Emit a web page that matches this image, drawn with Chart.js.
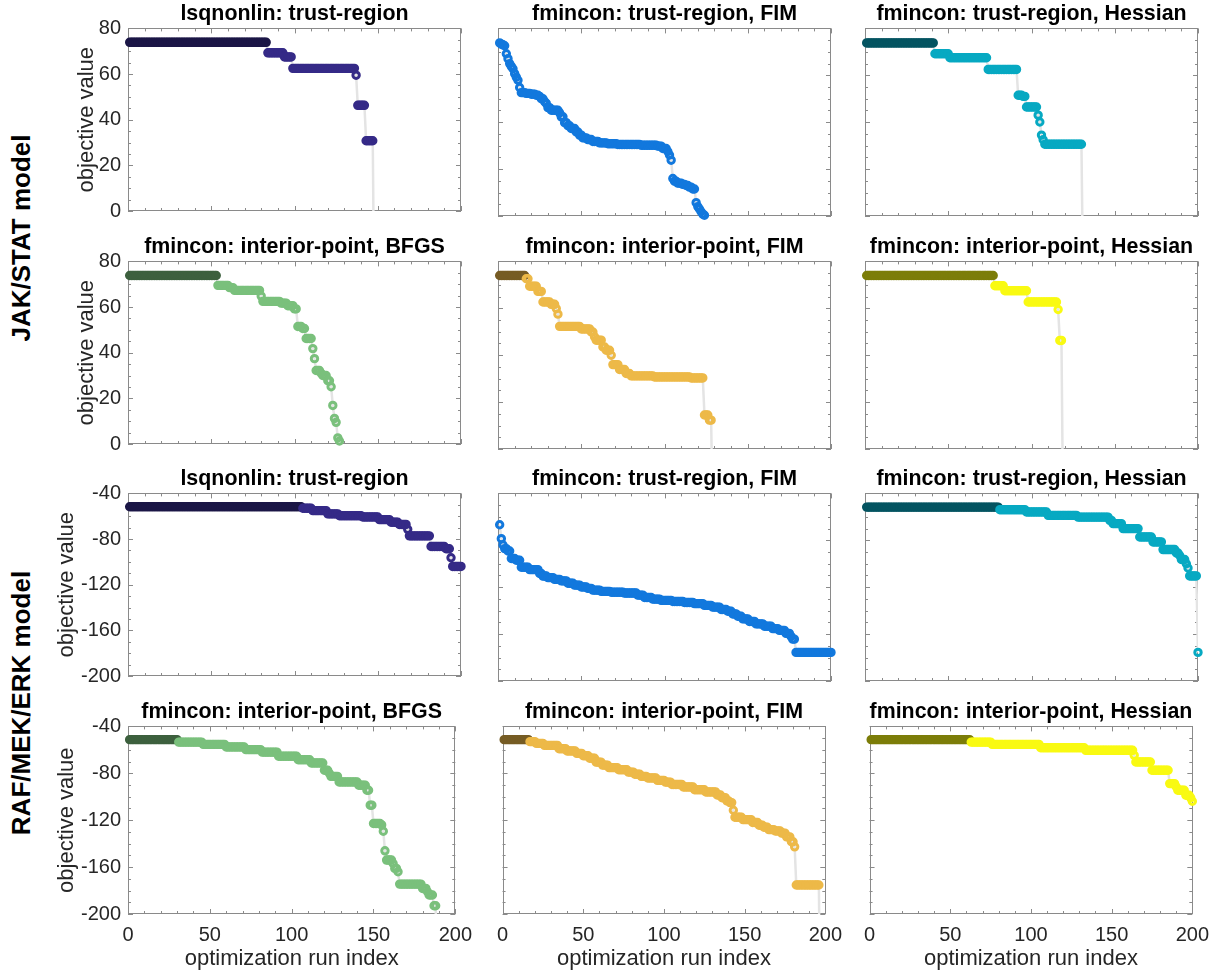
<!DOCTYPE html>
<html>
<head>
<meta charset="utf-8">
<script src="https://cdn.jsdelivr.net/npm/chart.js@4.4.1/dist/chart.umd.min.js"></script>
<style>
  html, body { margin: 0; padding: 0; background: #fff; }
  body { width: 1224px; height: 974px; position: relative; overflow: hidden; }
  canvas { position: absolute; }
  .rowlabel { position: absolute; font-family: 'Liberation Sans', Arial, Helvetica, sans-serif;
    font-weight: bold; font-size: 26px; color: #000; white-space: nowrap;
    transform: translate(-50%, -50%) rotate(-90deg); }
</style>
</head>
<body>
<div class="rowlabel" style="left:21px; top:238px;">JAK/STAT model</div>
<div class="rowlabel" style="left:21px; top:703px;">RAF/MEK/ERK model</div>
<script>
// ---------- tick labels ----------
const xTicks = [0, 50, 100, 150, 200];
const jakYTicks = [0, 20, 40, 60, 80];
const rafYTicks = [-200, -160, -120, -80, -40];

// ---------- panel titles ----------
const titles = [
  'lsqnonlin: trust-region', 'fmincon: trust-region, FIM', 'fmincon: trust-region, Hessian',
  'fmincon: interior-point, BFGS', 'fmincon: interior-point, FIM', 'fmincon: interior-point, Hessian',
  'lsqnonlin: trust-region', 'fmincon: trust-region, FIM', 'fmincon: trust-region, Hessian',
  'fmincon: interior-point, BFGS', 'fmincon: interior-point, FIM', 'fmincon: interior-point, Hessian'
];

// ---------- sorted objective values, as [value, number of runs] ----------
const jakLsqnonlinTR = [[73.9,83],[69.3,10],[67.5,5],[62.5,38],[59.5,1],[46.3,5],[30.8,5],[-50,53]];
const jakFminconTRFIM = [[73.8,1],[73.3,1],[73.0,1],[72.6,1],[69.2,1],[67.1,1],[65.0,1],[63.8,1],[62.8,1],
  [60.7,1],[59.2,1],[57.9,1],[54.8,1],[52.6,3],[52.3,3],[51.9,3],[51.5,2],[51.0,1],[50.0,2],[48.8,1],
  [48.0,1],[46.2,2],[45.1,5],[44.0,1],[42.3,2],[39.8,2],[38.5,2],[37.3,3],[35.8,2],[34.5,2],[33.3,3],
  [32.6,3],[31.8,4],[31.2,5],[30.8,6],[30.5,14],[30.2,10],[29.8,3],[28.8,3],[27.5,1],[26.0,1],[23.8,1],
  [16.0,1],[14.8,2],[14.0,3],[13.5,2],[13.0,2],[12.3,2],[11.5,2],[5.7,1],[4.0,1],[3.0,1],[1.8,1],[0.8,1],
  [0.3,1],[-30,76]];
const jakFminconTRHess = [[73.8,41],[69.2,9],[67.5,23],[62.5,18],[51.5,3],[51.0,2],[46.5,7],[43.0,1],
  [40.1,1],[34.5,1],[32.5,1],[30.6,23],[-30,70]];
const jakFminconIPBFGS = [[73.8,53],[69.5,7],[68.5,3],[67.3,16],[64.8,1],[62.5,11],[61.7,4],[60.6,4],
  [59.2,2],[51.5,3],[50.6,2],[46.2,4],[41.8,1],[37.4,1],[32.2,3],[31.0,1],[30.0,3],[27.7,2],[25.1,1],
  [16.9,1],[11.2,1],[9.5,1],[2.7,1],[1.3,1],[-30,73]];
const jakFminconIPFIM = [[74.0,16],[72.6,2],[69.4,5],[67.2,3],[62.7,5],[61.7,3],[59.9,1],[57.5,1],
  [52.3,13],[51.2,6],[49.9,2],[47.8,1],[46.4,4],[43.5,2],[42.1,3],[40.0,1],[36.0,4],[33.9,4],[32.2,3],
  [31.2,14],[30.7,22],[30.3,8],[14.5,3],[12.3,2],[-30,72]];
const jakFminconIPHess = [[74.0,77],[69.6,6],[67.5,14],[62.7,18],[59.5,1],[46.3,2],[-30,82]];

const rafLsqnonlinTR = [[-51.7,104],[-53.0,6],[-55.1,9],[-57.9,7],[-59.6,14],[-60.7,10],[-63.0,7],
  [-65.3,5],[-67.2,5],[-71.5,1],[-77.2,13],[-86.5,9],[-88.5,3],[-96.4,1],[-104.0,6]];
const rafFminconTRFIM = [[-66.7,1],[-78.6,1],[-84.0,1],[-87.1,2],[-89.1,2],[-95.5,3],[-97.0,3],
  [-103.0,5],[-105.0,6],[-108.3,2],[-110.5,3],[-111.8,4],[-113.3,4],[-114.6,4],[-116.6,4],[-118.2,4],
  [-119.8,4],[-121.0,3],[-122.5,5],[-123.6,6],[-124.3,8],[-125.0,8],[-126.8,4],[-128.8,5],[-130.2,5],
  [-131.2,7],[-132.2,7],[-133.0,6],[-134.0,6],[-135.5,5],[-137.0,5],[-139.0,4],[-140.5,3],[-142.8,3],
  [-144.8,3],[-147.0,4],[-149.2,4],[-151.3,5],[-153.3,5],[-155.3,4],[-156.8,4],[-159.4,3],[-162.0,1],
  [-164.3,2],[-175.6,22]];
const rafFminconTRHess = [[-51.7,80],[-53.9,16],[-55.9,13],[-58.7,18],[-60.2,19],[-63.0,2],[-65.8,6],
  [-70.0,10],[-77.2,8],[-81.4,6],[-87.9,8],[-90.8,2],[-93.0,1],[-96.4,3],[-100.0,1],[-103.6,1],
  [-110.4,5],[-175.6,1]];
const rafFminconIPBFGS = [[-51.3,30],[-53.4,15],[-55.3,14],[-57.6,12],[-59.8,10],[-61.9,10],[-65.5,12],
  [-68.4,8],[-71.2,8],[-77.4,3],[-80.0,1],[-82.6,5],[-87.4,12],[-90.2,5],[-94.5,2],[-107.2,2],
  [-122.8,5],[-124.0,1],[-129.4,1],[-146.1,1],[-154.0,4],[-156.9,1],[-161.1,2],[-164.0,1],[-174.5,14],
  [-178.2,3],[-181.0,1],[-183.8,3],[-193.0,2],[-300,12]];
const rafFminconIPFIM = [[-51.3,16],[-53.0,4],[-54.5,5],[-56.2,9],[-59.0,5],[-61.0,6],[-63.0,4],
  [-65.0,4],[-67.2,4],[-70.5,4],[-73.0,4],[-75.2,6],[-77.0,6],[-79.0,4],[-80.8,4],[-82.6,4],[-84.0,6],
  [-86.0,5],[-87.5,4],[-89.5,7],[-91.7,7],[-94.0,7],[-95.9,7],[-98.5,3],[-100.8,3],[-103.5,2],[-105.0,2],
  [-111.5,1],[-117.5,5],[-119.5,6],[-122.0,4],[-124.3,3],[-126.0,3],[-128.0,4],[-129.2,4],[-131.0,3],
  [-134.2,3],[-138.4,2],[-142.7,1],[-175.3,15],[-300,4]];
const rafFminconIPHess = [[-51.3,62],[-53.4,13],[-55.3,30],[-58.2,28],[-60.4,30],[-64.7,1],[-70.4,10],
  [-77.4,11],[-88.8,4],[-91.5,1],[-94.5,5],[-98.7,3],[-101.0,1],[-103.8,1]];

// number of leading runs drawn in the darker shade (runs that reached the best value)
const darkCounts = [83, 0, 41, 53, 16, 77, 104, 0, 80, 30, 16, 62];

const seriesColors = ['rgb(53,42,135)', 'rgb(18,120,221)', 'rgb(7,169,194)',
                      'rgb(122,192,124)', 'rgb(237,185,72)', 'rgb(249,250,18)'];
const darkColors   = ['rgb(27,22,70)', 'rgb(9,60,110)', 'rgb(4,84,97)',
                      'rgb(61,96,62)', 'rgb(118,92,36)', 'rgb(124,125,9)'];

const allRuns = [jakLsqnonlinTR, jakFminconTRFIM, jakFminconTRHess, jakFminconIPBFGS, jakFminconIPFIM, jakFminconIPHess,
                 rafLsqnonlinTR, rafFminconTRFIM, rafFminconTRHess, rafFminconIPBFGS, rafFminconIPFIM, rafFminconIPHess];

// ---------- layout (pixels) ----------
const rowTop = [28, 261, 493, 726];
const colLeft = [128, 498, 865];
const plotW = 333, plotH = 188;
const fontFam = "'Liberation Sans', Arial, Helvetica, sans-serif";
const tickColor = '#262626';

function expandRuns(runs) {
  const v = [];
  runs.forEach(([val, n]) => { for (let i = 0; i < n; i++) v.push(val); });
  return v;
}

const boxPlugin = {
  id: 'matlabBox',
  beforeDatasetsDraw(chart, args, opts) {
    const {ctx, chartArea: a, scales: {x, y}} = chart;
    ctx.save();
    ctx.strokeStyle = '#8a8a8a';
    ctx.lineWidth = 1;
    ctx.strokeRect(Math.round(a.left) + 0.5, Math.round(a.top) + 0.5,
                   Math.round(a.right - a.left) - 1, Math.round(a.bottom - a.top) - 1);
    ctx.beginPath();
    const xMajor = opts.xMajor, xMinor = opts.xMinor;
    for (let v = x.min; v <= x.max + 1e-9; v += xMinor) {
      const px = Math.round(x.getPixelForValue(v)) + 0.5;
      const len = xMajor.includes(v) ? 5 : 3;
      ctx.moveTo(px, a.bottom); ctx.lineTo(px, a.bottom - len);
      ctx.moveTo(px, a.top); ctx.lineTo(px, a.top + len);
    }
    const yMajor = opts.yMajor, yMinor = opts.yMinor;
    for (let v = y.min; v <= y.max + 1e-9; v += yMinor) {
      const py = Math.round(y.getPixelForValue(v)) + 0.5;
      const len = yMajor.includes(v) ? 5 : 3;
      ctx.moveTo(a.left, py); ctx.lineTo(a.left + len, py);
      ctx.moveTo(a.right, py); ctx.lineTo(a.right - len, py);
    }
    ctx.stroke();
    ctx.restore();
  }
};

allRuns.forEach((runs, k) => {
  const r = Math.floor(k / 3), c = k % 3;
  const isJak = r < 2;
  const yTicks = isJak ? jakYTicks : rafYTicks;
  const values = expandRuns(runs);
  const pts = values.map((v, i) => ({x: i + 1, y: v}));
  const dark = darkCounts[k];
  const color = seriesColors[c + 3 * (r % 2)];
  const darkColor = darkColors[c + 3 * (r % 2)];

  const showX = r === 3, showY = c === 0;
  const yAxisW = isJak ? 68 : 83;
  const yTitlePad = isJak ? 14 : 9;
  const leftExtra = showY ? yAxisW : 10;
  const bottomExtra = showX ? 58 : 14;
  const cv = document.createElement('canvas');
  const W = leftExtra + plotW + 20, H = 25 + plotH + bottomExtra;
  cv.width = W; cv.height = H;
  cv.style.left = (colLeft[c] - leftExtra) + 'px';
  cv.style.top = (rowTop[r] - 25) + 'px';
  cv.style.width = W + 'px'; cv.style.height = H + 'px';
  document.body.appendChild(cv);

  new Chart(cv, {
    type: 'scatter',
    data: {
      datasets: [
        { data: pts, showLine: true, borderColor: '#e4e4e4', borderWidth: 2.5, pointRadius: 0, order: 2 },
        { data: pts, showLine: false, pointRadius: 3.2, pointBorderWidth: 3,
          pointBackgroundColor: 'rgba(255,255,255,0)',
          pointBorderColor: (ctx) => ctx.dataIndex < dark ? darkColor : color,
          clip: {left: 8, right: 8, top: 8, bottom: 8}, order: 1 }
      ]
    },
    options: {
      responsive: false, animation: false, devicePixelRatio: 1,
      events: [],
      layout: { padding: { left: showY ? 0 : 10, right: 20, top: 0, bottom: showX ? 0 : 14 } },
      plugins: {
        legend: { display: false }, tooltip: { enabled: false },
        title: { display: true, text: titles[k], fullSize: false, color: '#000',
                 font: { family: fontFam, size: 21.4, weight: 'bold', lineHeight: 1 },
                 padding: { top: 0, bottom: 4 } },
        matlabBox: { xMajor: xTicks, xMinor: 10, yMajor: yTicks, yMinor: isJak ? 5 : 10 }
      },
      scales: {
        x: {
          type: 'linear', min: 0, max: 200, display: showX,
          afterBuildTicks: (s) => { s.ticks = xTicks.map(v => ({value: v})); },
          afterFit: (s) => { s.height = showX ? 58 : 0; },
          grid: { display: false, drawTicks: false }, border: { display: false },
          ticks: { color: tickColor, padding: 9, maxRotation: 0, autoSkip: false,
                   font: { family: fontFam, size: 20, lineHeight: 1.2 } },
          title: { display: true, text: 'optimization run index', color: tickColor,
                   font: { family: fontFam, size: 22, lineHeight: 1.2 }, padding: { top: 0, bottom: 0 } }
        },
        y: {
          type: 'linear', min: yTicks[0], max: yTicks[yTicks.length - 1], display: showY,
          afterBuildTicks: (s) => { s.ticks = yTicks.map(v => ({value: v})); },
          afterFit: (s) => { s.width = showY ? yAxisW : 0; },
          grid: { display: false, drawTicks: false }, border: { display: false },
          ticks: { color: tickColor, padding: 7, font: { family: fontFam, size: 20, lineHeight: 1.2 } },
          title: { display: true, text: 'objective value', color: tickColor,
                   font: { family: fontFam, size: 22, lineHeight: 1.2 }, padding: { top: yTitlePad, bottom: 0 } }
        }
      }
    },
    plugins: [boxPlugin]
  });
});
</script>
</body>
</html>
